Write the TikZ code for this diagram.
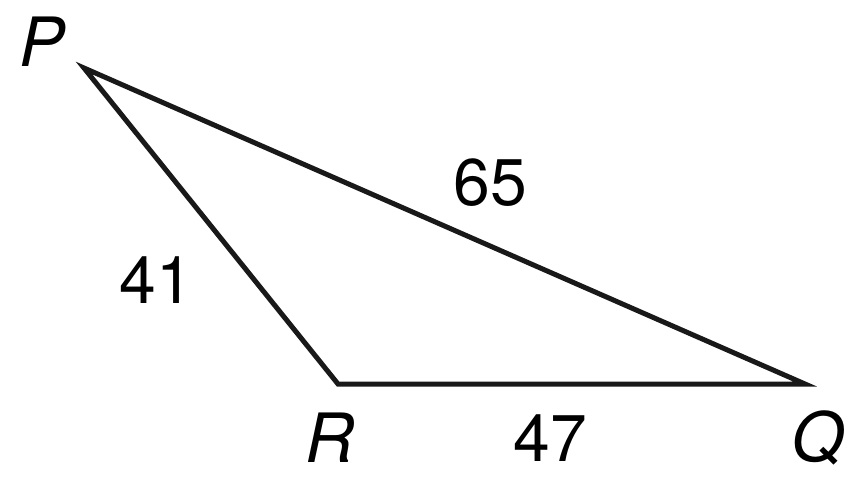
\documentclass[tikz,border=0pt]{standalone}
\usepackage{fontspec}
\setmainfont{TeX Gyre Heros}
\tikzstyle{side} = [line width=5pt, line join=miter, draw=black!90]
\tikzstyle{vertex} = [inner sep=0pt, font=\fontsize{68}{70}\selectfont\itshape]
\tikzstyle{length} = [inner sep=0pt, font=\fontsize{66}{68}\selectfont]

\begin{document}
\begin{tikzpicture}[x=1pt, y=-1pt]
  \useasboundingbox (0,0) rectangle (856,479);
  \coordinate (P) at (84,68);
  \coordinate (R) at (338,384);
  \coordinate (Q) at (805,384);

  \draw [side] (P) -- (Q) -- (R) -- cycle;

  \node (labP) [vertex] at (42,42) {P};
  \node (labR) [vertex] at (330,438) {R};
  \node (labQ) [vertex] at (818,438) {Q};
  \node (lPR) [length] at (156,280) {41};
  \node (lPQ) [length] at (490,183) {65};
  \node (lRQ) [length] at (550,438) {47};
\end{tikzpicture}
\end{document}
